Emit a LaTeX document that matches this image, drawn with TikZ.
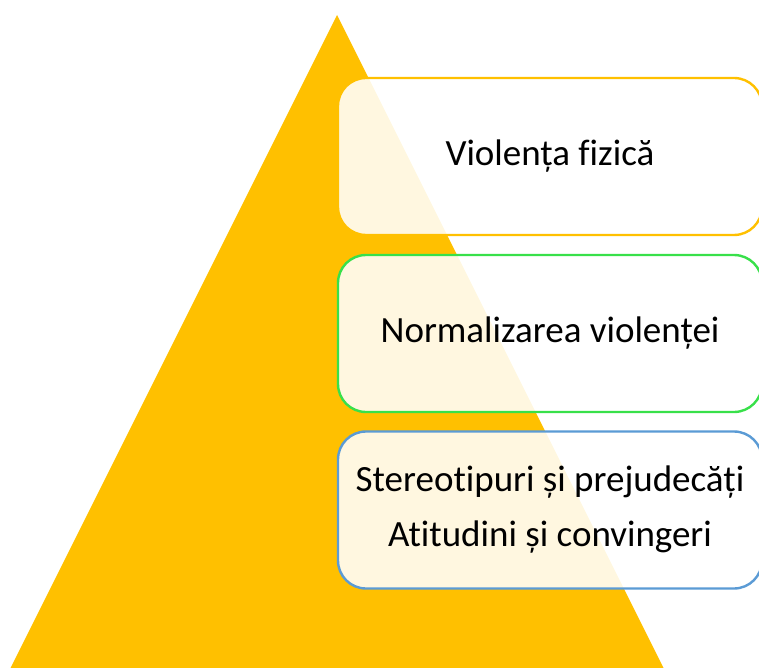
\documentclass[tikz,border=0pt]{standalone}
\usepackage{fontspec}
\setmainfont[Ligatures=NoCommon]{Carlito}
\usetikzlibrary{positioning}

\definecolor{galben}{HTML}{FFC000}
\definecolor{verde}{HTML}{38E04A}
\definecolor{albastru}{HTML}{5B9BD5}

\tikzset{
  treapta/.style={draw, line width=2.4pt, rounded corners=28pt, fill=white, fill opacity=0.88,
    text opacity=1, minimum width=424pt, minimum height=157pt, align=center,
    font=\fontsize{37}{55}\selectfont}
}

\begin{document}
\begin{tikzpicture}[x=1pt,y=-1pt]
\useasboundingbox (0,0) rectangle (759,668);
\clip (0,0) rectangle (759,668);
\coordinate (V) at (337,15);
\coordinate (S) at (-20,729);
\coordinate (D) at (694,729);
\fill [galben] (V)--(S)--(D)--cycle;
\node [treapta, draw=galben] (fizica) at (550,156.5) {Violența fizică};
\node [treapta, draw=verde] (normal) at (550,333.5) {Normalizarea violenței};
\node [treapta, draw=albastru] (atitud) at (550,510) {Stereotipuri și prejudecăți\\Atitudini și convingeri};
\end{tikzpicture}
\end{document}
